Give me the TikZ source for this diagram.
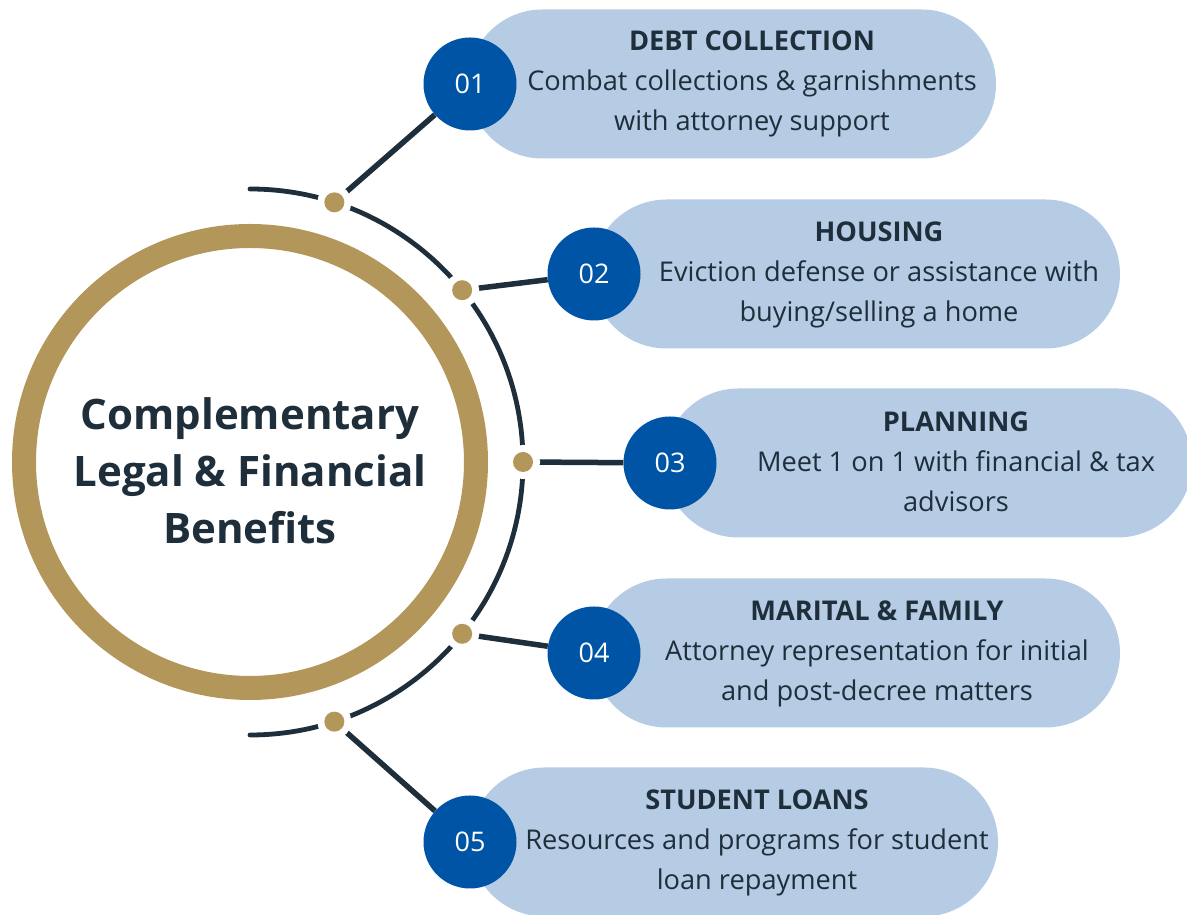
\documentclass[tikz,border=0pt]{standalone}
\usepackage{fontspec}
\setmainfont{Open Sans}
\usepackage{xcolor}
\usepackage{tikz}
\usetikzlibrary{positioning}
\usetikzlibrary{shapes.misc}
\usetikzlibrary{backgrounds}

\definecolor{gold}{HTML}{B3965A}
\definecolor{navy}{HTML}{1E2E3B}
\definecolor{numblue}{HTML}{0054A5}
\definecolor{pillblue}{HTML}{B5CCE4}

\tikzset{
  ring/.style={circle, draw=gold, line width=24pt, minimum size=452pt, inner sep=0pt},
  knot/.style={circle, fill=gold, minimum size=20pt, inner sep=0pt,
    preaction={draw=white, line width=14pt}},
  num/.style={circle, fill=numblue, text=white, minimum size=93pt, inner sep=0pt,
    font=\fontsize{27}{27}\selectfont},
  pill/.style={rounded rectangle, fill=pillblue, minimum width=528pt,
    minimum height=149pt, inner sep=0pt},
  info/.style={text=navy, align=center, anchor=base, font=\fontsize{27.2}{40}\selectfont},
  link/.style={draw=navy, line width=5.5pt},
}

\begin{document}
\begin{tikzpicture}[x=1pt,y=1pt]
\useasboundingbox (0,0) rectangle (1187,915);

% Centre ring
\node[ring] (hub) at (250,453) {};
\node[text=navy, align=center, font=\bfseries\fontsize{42}{57}\selectfont] (title) at (250,444)
  {Complementary\\Legal \& Financial\\Benefits};

% Pills
\node[pill] (p1) at (732,831) {};
\node[pill] (p2) at (856,641) {};
\node[pill] (p3) at (928,452) {};
\node[pill] (p4) at (856,262) {};
\node[pill] (p5) at (734,73) {};

% Number badges
\node[num] (n1) at (470,831) {01};
\node[num] (n2) at (594,641) {02};
\node[num] (n3) at (670,452) {03};
\node[num] (n4) at (594,262) {04};
\node[num] (n5) at (470,73) {05};

% Knots on the arc
\node[knot] (k1) at ([shift={(72:273)}]hub.center) {};
\node[knot] (k2) at ([shift={(39:273)}]hub.center) {};
\node[knot] (k3) at ([shift={(0:273)}]hub.center) {};
\node[knot] (k4) at ([shift={(-39:273)}]hub.center) {};
\node[knot] (k5) at ([shift={(-72:273)}]hub.center) {};

% Texts (base = last line)
\node[info] (t1) at (752,784) {\textbf{DEBT COLLECTION}\\Combat collections \& garnishments\\with attorney support};
\node[info] (t2) at (879,593) {\textbf{HOUSING}\\Eviction defense or assistance with\\buying/selling a home};
\node[info] (t3) at (956,403) {\textbf{PLANNING}\\Meet 1 on 1 with financial \& tax\\advisors};
\node[info] (t4) at (877,214) {\textbf{MARITAL \& FAMILY}\\Attorney representation for initial\\and post-decree matters};
\node[info] (t5) at (757,25) {\textbf{STUDENT LOANS}\\Resources and programs for student\\loan repayment};

% Arc and connectors
\begin{scope}[on background layer]
\fill[white] (0,0) rectangle (1187,915);
\draw[navy, line width=4.8pt, line cap=round] ([shift={(90:273)}]hub.center)
  arc[start angle=90, end angle=-90, radius=273];
\draw[link] (k1) -- (n1);
\draw[link] (k2) -- (n2);
\draw[link] (k3) -- (n3);
\draw[link] (k4) -- (n4);
\draw[link] (k5) -- (n5);
\end{scope}
\end{tikzpicture}
\end{document}
